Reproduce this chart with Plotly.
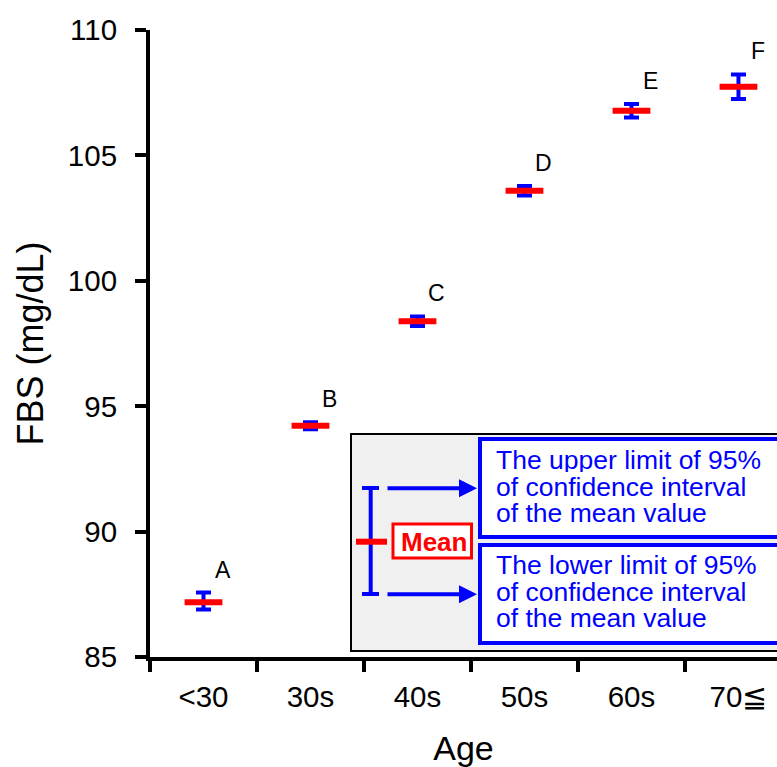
import plotly.graph_objects as go

categories = ["<30", "30s", "40s", "50s", "60s", "70≦"]
means = [87.18, 94.22, 98.39, 103.59, 106.78, 107.74]
upper = [87.57, 94.36, 98.58, 103.78, 107.05, 108.23]
lower = [86.89, 94.08, 98.20, 103.40, 106.51, 107.25]
letters = ["A", "B", "C", "D", "E", "F"]
y_ticks = [85, 90, 95, 100, 105, 110]

FONT = "Liberation Sans, Arial, sans-serif"
BLUE = "#0000ff"
RED = "#ff0000"

W, H = 777, 767
ML, MR, MT, MB = 150, 0, 30, 110
PW, PH = W - ML - MR, H - MT - MB


def px(x):
    return (x - ML) / PW


def py(y):
    return (H - MB - y) / PH


xs = list(range(len(categories)))

fig = go.Figure()
fig.add_trace(go.Scatter(
    x=xs, y=means, mode="markers",
    marker=dict(symbol="line-ew", size=27, color=RED, line=dict(width=6, color=RED)),
    error_y=dict(type="data", symmetric=False,
                 array=[u - m for u, m in zip(upper, means)],
                 arrayminus=[m - l for m, l in zip(means, lower)],
                 color=BLUE, thickness=4, width=7.5),
    showlegend=False, cliponaxis=False,
))

annotations = []
for i, (lab, u) in enumerate(zip(letters, upper)):
    annotations.append(dict(x=i + 0.18, y=u, xref="x", yref="y", text=lab, showarrow=False,
                            yshift=23, font=dict(family=FONT, size=23, color="black"),
                            xanchor="center", yanchor="middle"))

shapes = []
# legend panel
shapes.append(dict(type="rect", xref="paper", yref="paper", x0=px(351), x1=px(800), y0=py(651), y1=py(434),
                   line=dict(color="black", width=2), fillcolor="#f0f0f0", layer="above"))
shapes.append(dict(type="rect", xref="paper", yref="paper", x0=px(480), x1=px(800), y0=py(537), y1=py(439),
                   line=dict(color=BLUE, width=4), fillcolor="white", layer="above"))
shapes.append(dict(type="rect", xref="paper", yref="paper", x0=px(480), x1=px(800), y0=py(643), y1=py(545),
                   line=dict(color=BLUE, width=4), fillcolor="white", layer="above"))
# legend error-bar icon
shapes.append(dict(type="line", xref="paper", yref="paper", x0=px(370.7), x1=px(370.7), y0=py(594), y1=py(488),
                   line=dict(color=BLUE, width=4), layer="above"))
for yy in (488, 594):
    shapes.append(dict(type="line", xref="paper", yref="paper", x0=px(362), x1=px(379), y0=py(yy), y1=py(yy),
                       line=dict(color=BLUE, width=4), layer="above"))
shapes.append(dict(type="line", xref="paper", yref="paper", x0=px(356), x1=px(387), y0=py(541.7), y1=py(541.7),
                   line=dict(color=RED, width=6), layer="above"))
# Mean box
shapes.append(dict(type="rect", xref="paper", yref="paper", x0=px(393), x1=px(471.5), y0=py(558), y1=py(524),
                   line=dict(color=RED, width=3), fillcolor="white", layer="above"))

annotations.append(dict(x=px(434), y=py(542), xref="paper", yref="paper", text="<b>Mean</b>", showarrow=False,
                        font=dict(family=FONT, size=26, color=RED), xanchor="center", yanchor="middle"))

# arrows
for yy in (488.3, 594.3):
    annotations.append(dict(x=px(477), y=py(yy), xref="paper", yref="paper", ax=-91, ay=0, axref="pixel",
                            ayref="pixel", text="", showarrow=True, arrowhead=2, arrowsize=0.9, arrowwidth=4,
                            arrowcolor=BLUE, standoff=0, startstandoff=0))

lines_up = ["The upper limit of 95%", "of confidence interval", "of the mean value"]
lines_lo = ["The lower limit of 95%", "of confidence interval", "of the mean value"]
for txt, yy in zip(lines_up + lines_lo, [460, 486.5, 513, 565, 591.5, 618]):
    annotations.append(dict(x=px(495), y=py(yy), xref="paper", yref="paper", text=txt, showarrow=False,
                            font=dict(family=FONT, size=26.5, color=BLUE), xanchor="left", yanchor="middle",
                            height=24, valign="middle", borderpad=0))

fig.update_layout(
    width=W, height=H,
    margin=dict(l=ML, r=MR, t=MT, b=MB, pad=0),
    paper_bgcolor="white", plot_bgcolor="white",
    font=dict(family=FONT, color="black"),
    shapes=shapes, annotations=annotations,
    xaxis=dict(range=[-0.5, 5.36], tickmode="array", tickvals=xs, ticktext=categories, ticks="",
               showline=True, linecolor="black", linewidth=4, showgrid=False, zeroline=False,
               tickfont=dict(family=FONT, size=29.5, color="black"), ticklabelstandoff=11,
               minor=dict(tickmode="array", tickvals=[i - 0.5 for i in xs], ticks="outside", ticklen=11,
                          tickwidth=4, tickcolor="black", showgrid=False),
               title=dict(text="Age", font=dict(family=FONT, size=34, color="black"), standoff=27)),
    yaxis=dict(range=[85, 110], tickmode="array", tickvals=y_ticks, ticks="outside", ticklen=11, tickwidth=4,
               tickcolor="black", showline=True, linecolor="black", linewidth=4, showgrid=False, zeroline=False,
               tickfont=dict(family=FONT, size=29.5, color="black"), ticklabelstandoff=12,
               title=dict(text="FBS (mg/dL)", font=dict(family=FONT, size=36, color="black"), standoff=14)),
)

fig.write_html("out.html")
